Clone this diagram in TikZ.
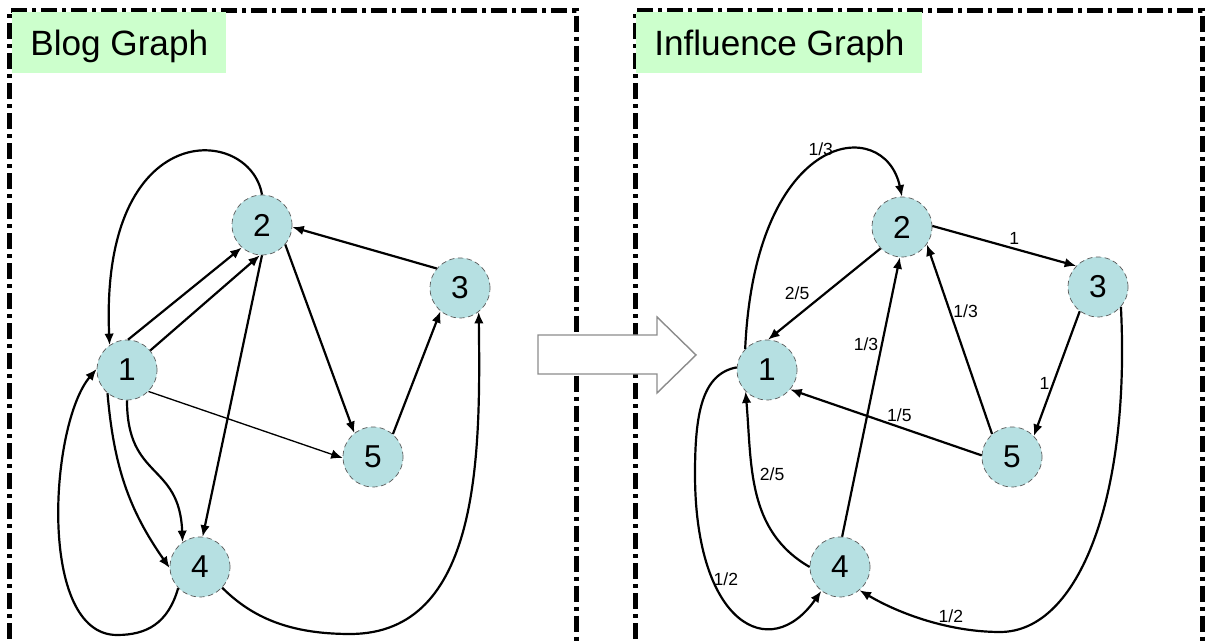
\documentclass[tikz,border=0pt]{standalone}
\usepackage{fontspec}
\setmainfont{Liberation Sans}
\usetikzlibrary{arrows.meta}
\definecolor{nodecyan}{HTML}{B6E0E2}
\definecolor{titlegreen}{HTML}{CCFFCC}
\begin{document}
\begin{tikzpicture}[
	blog/.style={circle,draw=black!65,densely dashed,line width=0.4pt,fill=nodecyan,minimum size=1.2cm,inner sep=0pt,font=\fontsize{18}{18}\selectfont},
	link/.style={line width=1.25pt,-{Latex[length=2.3mm,width=1.9mm]}},
	wlabel/.style={font=\fontsize{10}{10}\selectfont,inner sep=1.5pt},
	panel/.style={line width=0.1cm,dash pattern=on 0.32cm off 0.1cm on 0.08cm off 0.1cm},
	heading/.style={fill=titlegreen,anchor=north west,inner xsep=0.36cm,inner ysep=0.36cm,text height=0.5cm,text depth=0pt,font=\fontsize{20}{20}\selectfont}]
			\useasboundingbox (0,0) rectangle (24.1,12.88);
			\draw[panel] (0.19,-0.5) -- (0.19,12.67) -- (11.52,12.67) -- (11.52,-0.5);
			\draw[panel] (12.71,-0.5) -- (12.71,12.67) -- (24.04,12.67) -- (24.04,-0.5);
			\node[heading] (blogtitle) at (0.24,12.64) {Blog Graph};
			\node[heading] (inftitle) at (12.72,12.64) {Influence Graph};
			\draw[draw=black!45,fill=white,line width=0.8pt] (10.76,5.40) -- (13.14,5.40) -- (13.14,5.02) -- (13.92,5.78) -- (13.14,6.54) -- (13.14,6.18) -- (10.76,6.18) -- cycle;
			% blog graph
			\node[blog] (b1) at (2.54,5.48) {1};
			\node[blog] (b2) at (5.24,8.38) {2};
			\node[blog] (b3) at (9.20,7.12) {3};
			\node[blog] (b4) at (4.00,1.54) {4};
			\node[blog] (b5) at (7.46,3.74) {5};
			\draw[link] (b2.north) .. controls +(-0.24,1.4) and +(-0.2,4.6) .. (b1.125);
			\draw[link] (b1.88) -- (b2.228);
			\draw[link] (b1.40) -- (b2.266);
			\draw[link] (b3.140) -- (b2.356);
			\draw[link] (b2.320) -- (b5.128);
			\draw[link] (b2.270) -- (b4.85);
			\draw[link,line width=0.75pt] (b1.315) -- (b5.182);
			\draw[link] (b5.49) -- (b3.230);
			\draw[link] (b1.230) to[out=-85,in=125] (b4.182);
			\draw[link] (b1.270) .. controls +(0,-1.6) and +(-0.06,1.6) .. (b4.125);
			\draw[link] (b4.224) .. controls +(-0.2,-0.7) and +(0.6,0) .. (2.34,0.18) .. controls +(-1.6,0) and +(-0.94,-1.1) .. (b1.178);
			\draw[link] (b4.317) .. controls +(0.6,-0.6) and +(-1.2,0) .. (7.0,0.2) .. controls +(2.6,0) and +(0.04,-2.9) .. (b3.308);
			% influence graph
			\begin{scope}[shift={(12.8,0)}]
				\node[blog] (i1) at (2.54,5.48) {1};
				\node[blog] (i2) at (5.24,8.34) {2};
				\node[blog] (i3) at (9.16,7.14) {3};
				\node[blog] (i4) at (4.00,1.54) {4};
				\node[blog] (i5) at (7.44,3.74) {5};
				\draw[link] (i1.136) .. controls +(0.2,4.4) and +(-0.35,1.65) .. (i2.90) node[wlabel,pos=0.5,above] {1/3};
				\draw[link] (i2.225) -- (i1.88) node[wlabel,pos=0.6,above left] {2/5};
				\draw[link] (i2.2) -- (i3.136) node[wlabel,pos=0.57,above] {1};
				\draw[link] (i5.131) -- (i2.325) node[wlabel,pos=0.65,right] {1/3};
				\draw[link] (i4.86) -- (i2.266) node[wlabel,pos=0.69,left] {1/3};
				\draw[link] (i3.233) -- (i5.44) node[wlabel,pos=0.58,left] {1};
				\draw[link] (i5.177) -- (i1.320) node[wlabel,pos=0.43,above,yshift=1pt] {1/5};
				\draw[link] (i4.180) to[out=150,in=-85] node[wlabel,pos=0.6,right=2pt] {2/5} (i1.225);
				\draw[link] (i1.175) .. controls +(-0.7,-0.13) and +(0,1.2) .. (1.1,3.4) .. controls +(0,-3.0) and +(-1.03,-1.47) .. (i4.232) node[wlabel,pos=0.3,right,inner sep=0pt] {1/2};
				\draw[link] (i3.319) .. controls +(0.19,-3.75) and +(1.6,0) .. (7.2,0.24) .. controls +(-1.0,0) and +(0.81,-0.48) .. (i4.310) node[wlabel,pos=0.33,above] {1/2};
			\end{scope}
\end{tikzpicture}
\end{document}
